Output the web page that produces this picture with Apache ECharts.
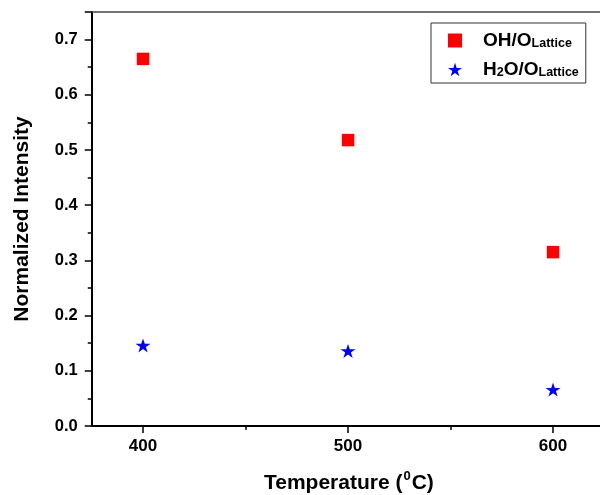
<!DOCTYPE html>
<html>
<head>
<meta charset="utf-8">
<script src="https://cdn.jsdelivr.net/npm/echarts@6/dist/echarts.min.js"></script>
<style>html,body{margin:0;padding:0;background:#fff}#c{width:600px;height:495px}</style>
</head>
<body>
<div id="c"></div>
<script>
const temps = [400, 500, 600];
const ohValues = [0.665, 0.518, 0.315];
const h2oValues = [0.146, 0.136, 0.066];
const yTicks = [0, 0.1, 0.2, 0.3, 0.4, 0.5, 0.6, 0.7];
const xMajorTicks = [400, 500, 600];
const xMinorTicks = [450, 550];

const STAR = 'path://M50 0 L61.23 34.55 L97.55 34.55 L68.17 55.9 L79.39 90.45 L50 69.1 L20.61 90.45 L31.83 55.9 L2.45 34.55 L38.77 34.55 Z';
const FONT = '"Liberation Sans", Arial, sans-serif';
const X_MIN = 375, X_MAX = 622.9;

const chart = echarts.init(document.getElementById('c'), null, {renderer: 'canvas'});
chart.setOption({
  animation: false,
  backgroundColor: '#fff',
  grid: {left: 91.75, top: 12, right: 0, height: 414, containLabel: false, outerBoundsMode: 'none'},
  xAxis: [{
    type: 'value', position: 'bottom', min: X_MIN, max: X_MAX,
    axisLine: {show: true, lineStyle: {color: '#000', width: 2}},
    axisTick: {show: true, length: 7, customValues: xMajorTicks, lineStyle: {color: '#000', width: 1.5}},
    splitLine: {show: false},
    axisLabel: {
      margin: 12, color: '#000', fontFamily: FONT, fontWeight: 'bold', fontSize: 17,
      customValues: xMajorTicks,
      formatter: v => String(Math.round(v))
    },
    name: '{a|Temperature (}{s|0}{a|C)}',
    nameLocation: 'middle', nameGap: 44,
    nameTextStyle: {
      padding: [0, 0, 0, 6],
      rich: {
        a: {fontFamily: FONT, fontWeight: 'bold', fontSize: 21, color: '#000', lineHeight: 24, verticalAlign: 'bottom'},
        s: {fontFamily: FONT, fontWeight: 'bold', fontSize: 13, color: '#000', lineHeight: 13, verticalAlign: 'top', padding: [0, 1, 9, 1]}
      }
    }
  }, {
    type: 'value', position: 'bottom', min: X_MIN, max: X_MAX,
    axisLine: {show: false},
    axisTick: {show: true, length: 4, customValues: xMinorTicks, lineStyle: {color: '#000', width: 1.5}},
    axisLabel: {show: false}, splitLine: {show: false}
  }, {
    type: 'value', position: 'top', min: X_MIN, max: X_MAX,
    axisLine: {show: true, lineStyle: {color: '#444', width: 1.5}},
    axisTick: {show: false}, axisLabel: {show: false}, splitLine: {show: false}
  }],
  yAxis: {
    type: 'value', min: 0, max: 0.75, interval: 0.1,
    axisLine: {show: true, lineStyle: {color: '#000', width: 2}},
    axisTick: {show: true, length: 7, lineStyle: {color: '#000', width: 1.5}},
    minorTick: {show: true, splitNumber: 2, length: 4, lineStyle: {color: '#000', width: 1.5}},
    splitLine: {show: false},
    axisLabel: {
      margin: 14, color: '#000', fontFamily: FONT, fontWeight: 'bold', fontSize: 16.5,
      showMaxLabel: false,
      formatter: v => (yTicks.some(t => Math.abs(t - v) < 1e-6) ? v.toFixed(1) : '')
    },
    name: 'Normalized Intensity',
    nameLocation: 'middle', nameGap: 59,
    nameTextStyle: {fontFamily: FONT, fontWeight: 'bold', fontSize: 21, color: '#000'}
  },
  legend: {
    orient: 'vertical', left: 431, top: 23,
    padding: [4, 7, 4, 17], itemGap: 6,
    itemWidth: 14, itemHeight: 14,
    borderColor: '#333', borderWidth: 1,
    data: [
      {name: 'OH', icon: 'rect', itemStyle: {color: '#ff0000', opacity: 1}},
      {name: 'H2O', icon: STAR, itemStyle: {color: '#0000ff', opacity: 1}}
    ],
    formatter: n => n === 'OH' ? '{p|}{a|OH/O}{s|Lattice}' : '{p|}{a|H}{s|2}{a|O/O}{s|Lattice}',
    textStyle: {
      rich: {
        p: {width: 16},
        a: {fontFamily: FONT, fontWeight: 'bold', fontSize: 19, color: '#000', lineHeight: 19, verticalAlign: 'top'},
        s: {fontFamily: FONT, fontWeight: 'bold', fontSize: 12.5, color: '#000', lineHeight: 12.5, verticalAlign: 'bottom', padding: [10, 0, 0, 0]}
      }
    }
  },
  series: [{
    name: 'OH', type: 'scatter', symbol: 'rect', symbolSize: 12.5,
    itemStyle: {color: '#ff0000', opacity: 1},
    data: temps.map((t, i) => [t, ohValues[i]])
  }, {
    name: 'H2O', type: 'scatter', symbol: STAR, symbolSize: [15, 14],
    itemStyle: {color: '#0000ff', opacity: 1},
    data: temps.map((t, i) => [t, h2oValues[i]])
  }]
});
</script>
</body>
</html>
